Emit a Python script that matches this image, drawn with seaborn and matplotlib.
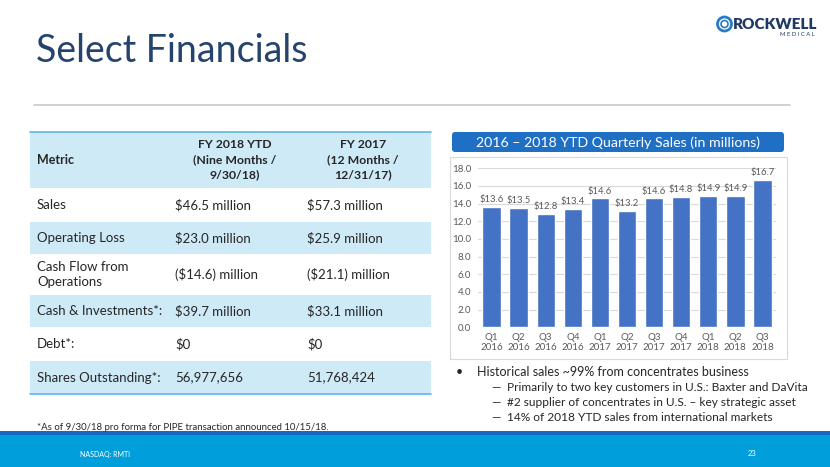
import matplotlib
matplotlib.use("Agg")
import matplotlib.pyplot as plt
import seaborn as sns
import pandas as pd
from matplotlib.patches import Rectangle, FancyBboxPatch, Circle

# chart data
quarters = ["Q1\n2016", "Q2\n2016", "Q3\n2016", "Q4\n2016",
            "Q1\n2017", "Q2\n2017", "Q3\n2017", "Q4\n2017",
            "Q1\n2018", "Q2\n2018", "Q3\n2018"]
sales = [13.6, 13.5, 12.8, 13.4, 14.6, 13.2, 14.6, 14.8, 14.9, 14.9, 16.7]

# table data
metrics = ["Sales", "Operating Loss", "Cash Flow from\nOperations",
           "Cash & Investments*:", "Debt*:", "Shares Outstanding*:"]
fy2018 = ["$46.5 million", "$23.0 million", "($14.6) million",
          "$39.7 million", "$0", "56,977,656"]
fy2017 = ["$57.3 million", "$25.9 million", "($21.1) million",
          "$33.1 million", "$0", "51,768,424"]
headers = ["Metric", "FY 2018 YTD\n(Nine Months /\n9/30/18)", "FY 2017\n(12 Months /\n12/31/17)"]

bullet_main = "Historical sales ~99% from concentrates business"
bullet_subs = ["Primarily to two key customers in U.S.: Baxter and DaVita",
               "#2 supplier of concentrates in U.S. \u2013 key strategic asset",
               "14% of 2018 YTD sales from international markets"]

sns.set_theme(style="white")
plt.rcParams['font.family'] = ['Lato', 'DejaVu Sans']

W, H = 830, 467
fig = plt.figure(figsize=(W / 100, H / 100), dpi=100)
fig.patch.set_facecolor("white")

# background canvas in pixel coords
bg = fig.add_axes([0, 0, 1, 1])
bg.set_xlim(0, W)
bg.set_ylim(H, 0)
bg.axis("off")

navy = "#24446E"
txt = "#262626"

# title + rule
bg.text(36, 62, "Select Financials", fontsize=27, color=navy,
        va="baseline", ha="left")
bg.plot([34, 790], [105, 105], color="#C8C8C8", lw=1.2)

# logo
bg.add_patch(Circle((724.5, 24), 7, fill=False, ec="#2A7BC4", lw=2))
bg.add_patch(Circle((724.5, 24), 3.5, fill=False, ec="#2A7BC4", lw=1.2))
bg.text(733, 29, "ROCKWELL", fontsize=11, fontweight="heavy", color="#1F3864",
        va="baseline", ha="left")
bg.text(815, 36, "M E D I C A L", fontsize=4.2, color="#1F3864",
        va="baseline", ha="right")

# table
light = "#CFEAF7"
x0, x1 = 30, 431
row_edges = [132, 188, 222, 254, 295, 327, 361, 394]
shaded = [True, False, True, False, True, False, True]
for i in range(len(row_edges) - 1):
    if shaded[i]:
        bg.add_patch(Rectangle((x0, row_edges[i]), x1 - x0,
                               row_edges[i + 1] - row_edges[i],
                               fc=light, ec="none"))
bg.plot([x0, x1], [132, 132], color="#5FB6E4", lw=1.2)
bg.plot([x0, x1], [394, 394], color="#5FB6E4", lw=1.2)

col_x = [37, 175, 307]
hdr_y = (row_edges[0] + row_edges[1]) / 2
bg.text(col_x[0], hdr_y, headers[0], fontsize=9, fontweight="bold", color=txt,
        va="center", ha="left")
bg.text(235, hdr_y, headers[1], fontsize=8.8, fontweight="bold", color=txt,
        va="center", ha="center", linespacing=1.45)
bg.text(363, hdr_y, headers[2], fontsize=8.8, fontweight="bold", color=txt,
        va="center", ha="center", linespacing=1.45)
for i, (m, a, b) in enumerate(zip(metrics, fy2018, fy2017)):
    yc = (row_edges[i + 1] + row_edges[i + 2]) / 2
    bg.text(col_x[0], yc, m, fontsize=9.5, color=txt, va="center", ha="left",
            linespacing=1.3)
    bg.text(col_x[1], yc, a, fontsize=9.5, color=txt, va="center", ha="left")
    bg.text(col_x[2], yc, b, fontsize=9.5, color=txt, va="center", ha="left")

bg.text(37, 427, "*As of 9/30/18 pro forma for PIPE transaction announced 10/15/18.",
        fontsize=6.9, color=txt, va="center", ha="left")

# chart title box and frame
bg.add_patch(FancyBboxPatch((452, 132), 332, 20,
                            boxstyle="round,pad=0,rounding_size=3",
                            fc="#1F6FC5", ec="none"))
bg.text(618, 142.5, "2016 \u2013 2018 YTD Quarterly Sales (in millions)",
        fontsize=10.2, color="white", va="center", ha="center")
bg.add_patch(Rectangle((450, 157), 337, 202, fc="none", ec="#D9D9D9", lw=0.8))

# bullets
bg.text(459, 372, "\u2022", fontsize=9, color=txt, va="center", ha="center")
bg.text(477, 372, bullet_main, fontsize=9, color=txt, va="center", ha="left")
for k, s in enumerate(bullet_subs):
    yy = 387.5 + k * 14.8
    bg.text(491, yy, "\u2014", fontsize=8.6, color=txt, va="center", ha="left")
    bg.text(507, yy, s, fontsize=8.6, color=txt, va="center", ha="left")

# footer band
bg.add_patch(Rectangle((0, 431), W, 4, fc="#1667C4", ec="none"))
bg.add_patch(Rectangle((0, 434.5), W, H - 434.5, fc="#009FDB", ec="none"))
bg.text(80, 454, "NASDAQ: RMTI", fontsize=5, color="white", va="center", ha="left")
bg.text(752, 453, "23", fontsize=5.5, color="white", va="center", ha="center")

# bar chart
ax = fig.add_axes([478 / W, 1 - 327.3 / H, 298 / W, 159 / H])
ax.set_facecolor("none")
df = pd.DataFrame({"quarter": quarters, "sales": sales})
sns.barplot(data=df, x="quarter", y="sales", color="#4472C4", saturation=1,
            width=0.68, ax=ax, zorder=3)
for c in ax.containers:
    ax.bar_label(c, labels=[f"${v:.1f}" for v in sales], padding=2,
                 fontsize=6.8, color="#595959")
ax.set_xlim(-0.5, len(quarters) - 0.5)
ax.set_ylim(0, 18)
ax.set_yticks(range(0, 19, 2))
ax.set_yticklabels([f"{v:.1f}" for v in range(0, 19, 2)])
ax.yaxis.grid(True, color="#D9D9D9", lw=0.8, zorder=0)
ax.set_axisbelow(True)
for sp in ax.spines.values():
    sp.set_visible(False)
ax.tick_params(axis="both", length=0, labelsize=7, labelcolor="#595959")
ax.tick_params(axis="y", pad=5)
ax.tick_params(axis="x", pad=4)
ax.set_xlabel("")
ax.set_ylabel("")

fig.savefig("out.png", dpi=100, facecolor="white")
